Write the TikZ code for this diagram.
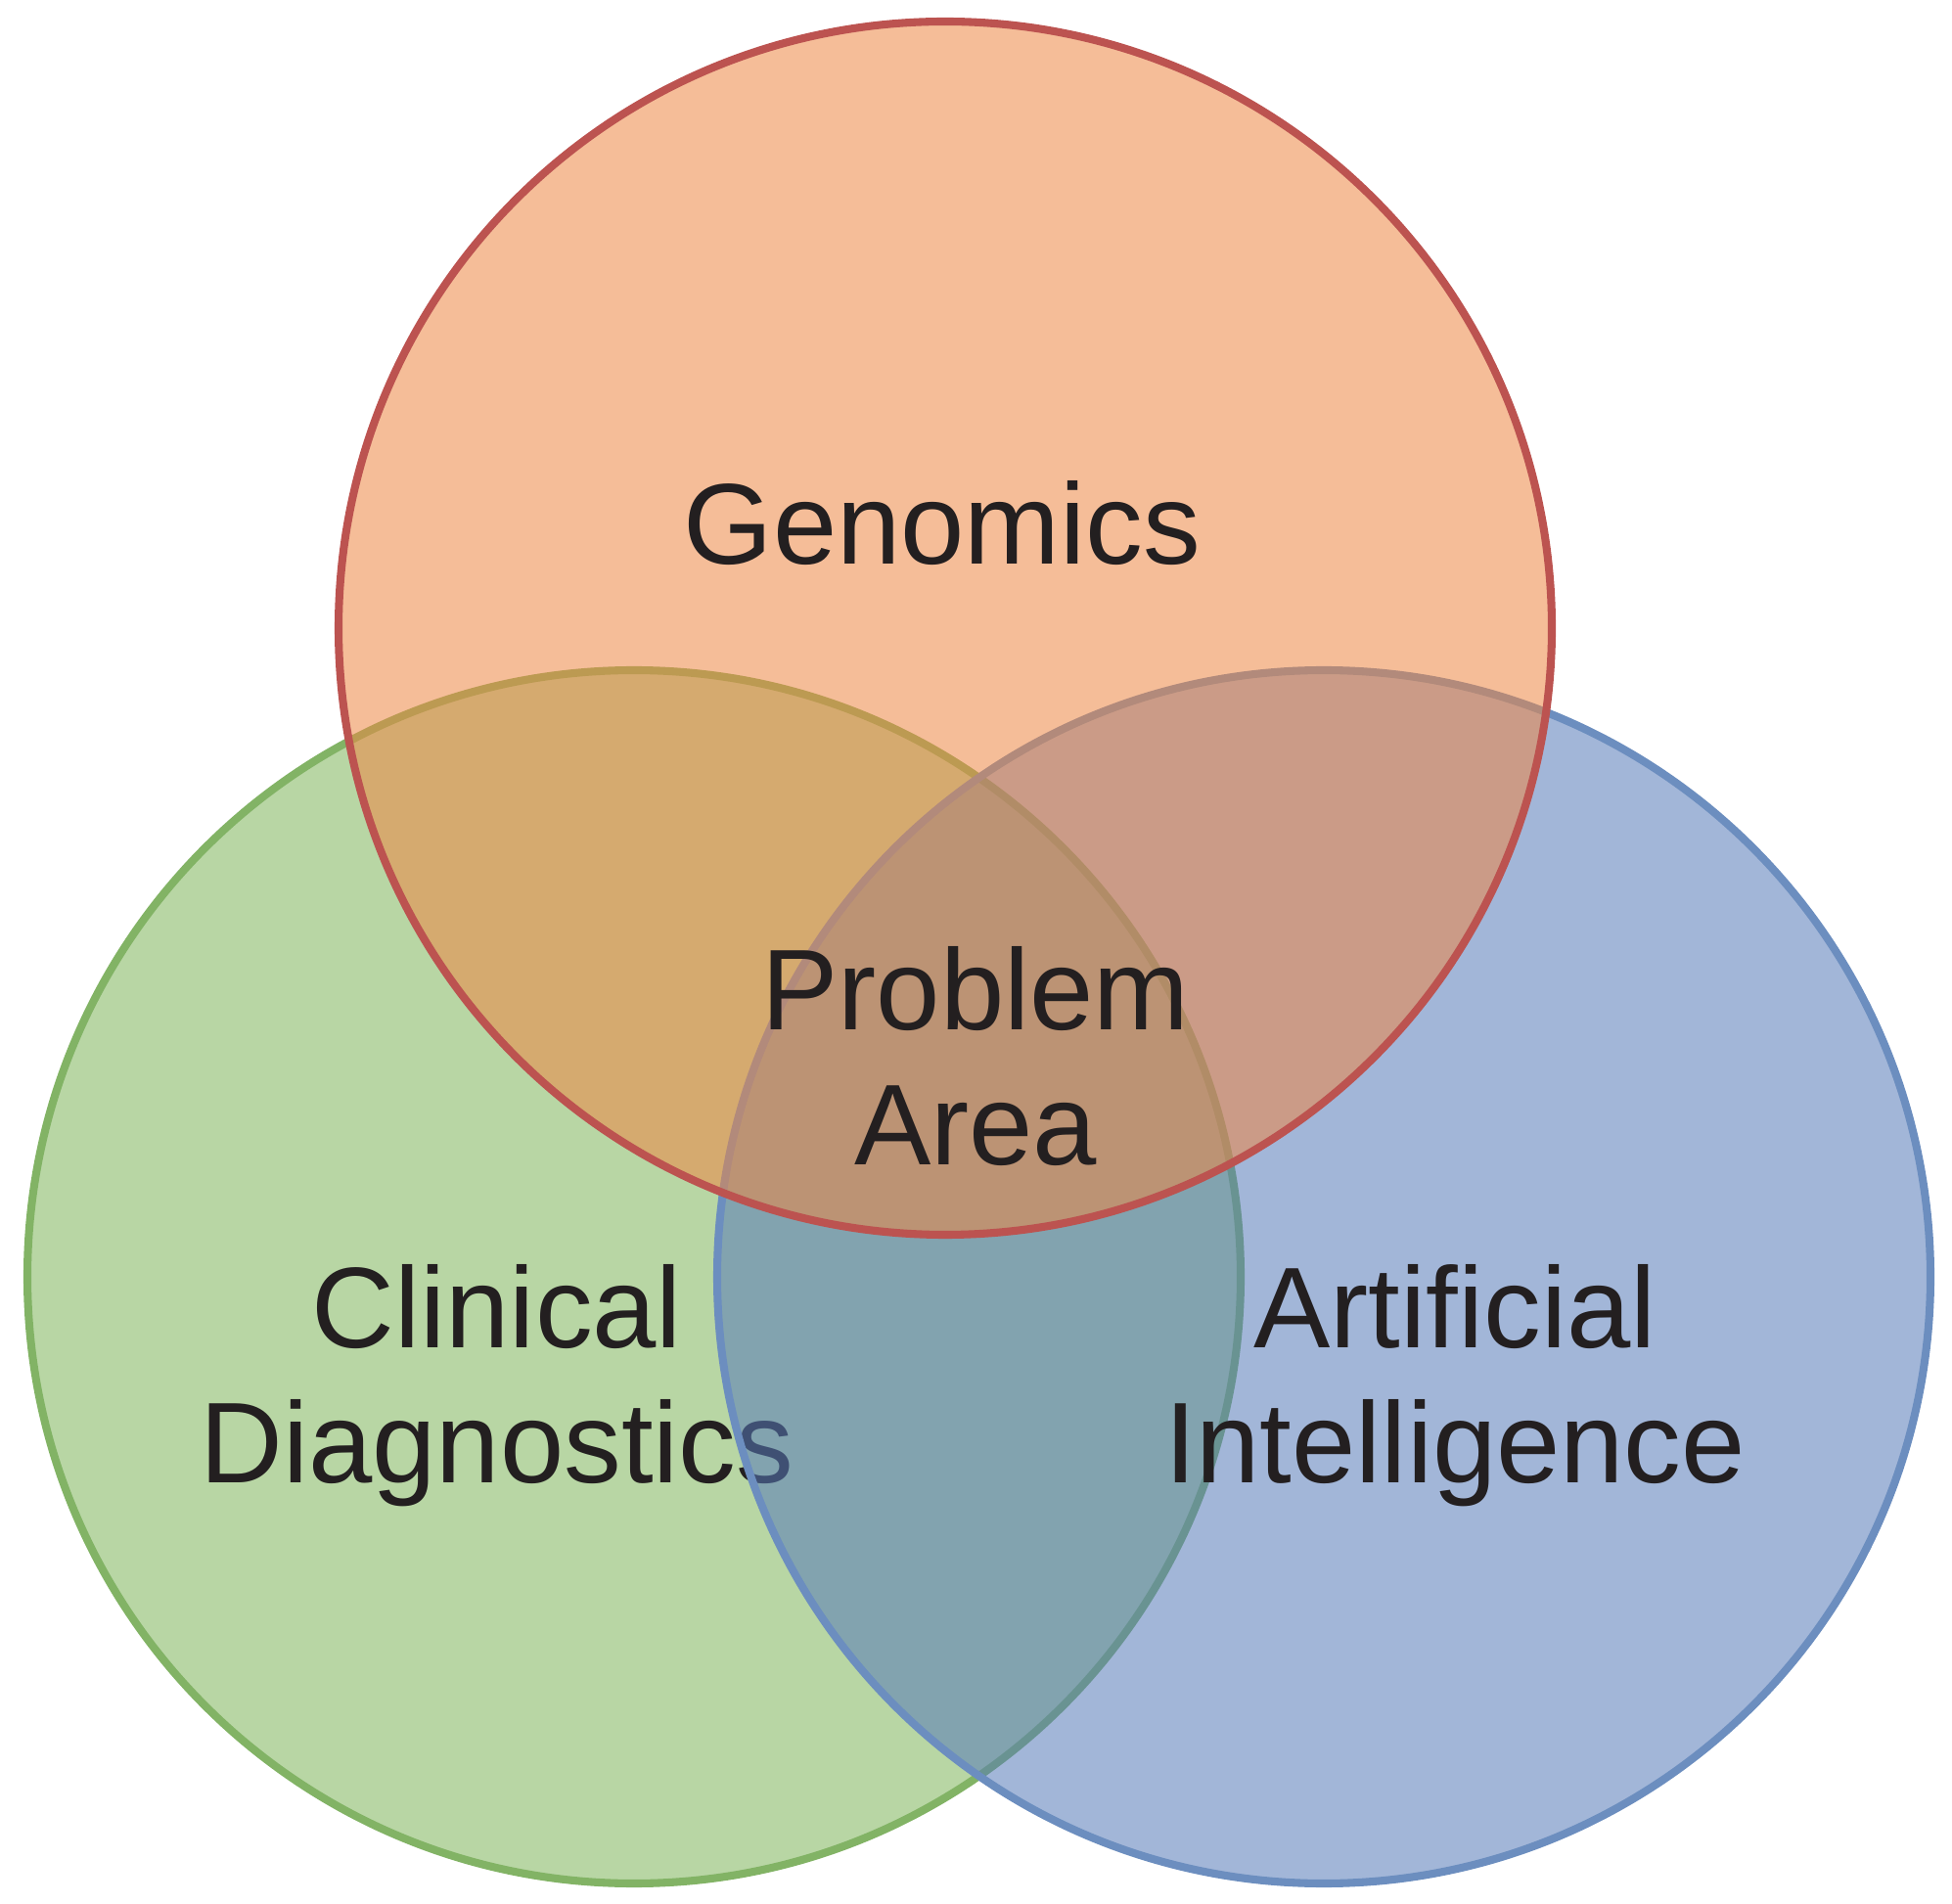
\documentclass[tikz,border=0pt]{standalone}
\usepackage{fontspec}
\setmainfont{Liberation Sans}
\definecolor{genofill}{RGB}{237,135,68}
\definecolor{genoline}{RGB}{188,83,80}
\definecolor{clinfill}{RGB}{126,180,90}
\definecolor{clinline}{RGB}{130,179,101}
\definecolor{aifill}{RGB}{86,122,184}
\definecolor{ailine}{RGB}{108,142,191}
\definecolor{inkgray}{RGB}{35,31,32}
\begin{document}
\begin{tikzpicture}[line join=round, line cap=round]
	\tikzset{venn/.style={line width=2.3pt, fill opacity=.55, draw opacity=1},
		label style/.style={text=inkgray, align=center, inner sep=0pt, font=\fontsize{33.4}{39.3}\selectfont}}
	\useasboundingbox (0,0) rectangle (19.95,19.45);
	\coordinate (geno) at (9.66,13.03);
	\coordinate (clin) at (6.48,6.40);
	\coordinate (ai) at (13.53,6.40);
	% green circle first, then blue, then the red one on top
	\draw[venn, draw=clinline, fill=clinfill] (clin) circle (6.20);
	\node[label style] (clintext) at (5.08,5.285) {Clinical\\Diagnostics};
	\draw[venn, draw=ailine, fill=aifill] (ai) circle (6.20);
	\node[label style] (aitext) at (14.87,5.285) {Artificial\\Intelligence};
	\draw[venn, draw=genoline, fill=genofill] (geno) circle (6.20);
	\node[label style, anchor=base] (genotext) at (9.63,13.68) {Genomics};
	\node[label style] (problem) at (9.97,8.655) {Problem\\Area};
\end{tikzpicture}
\end{document}
